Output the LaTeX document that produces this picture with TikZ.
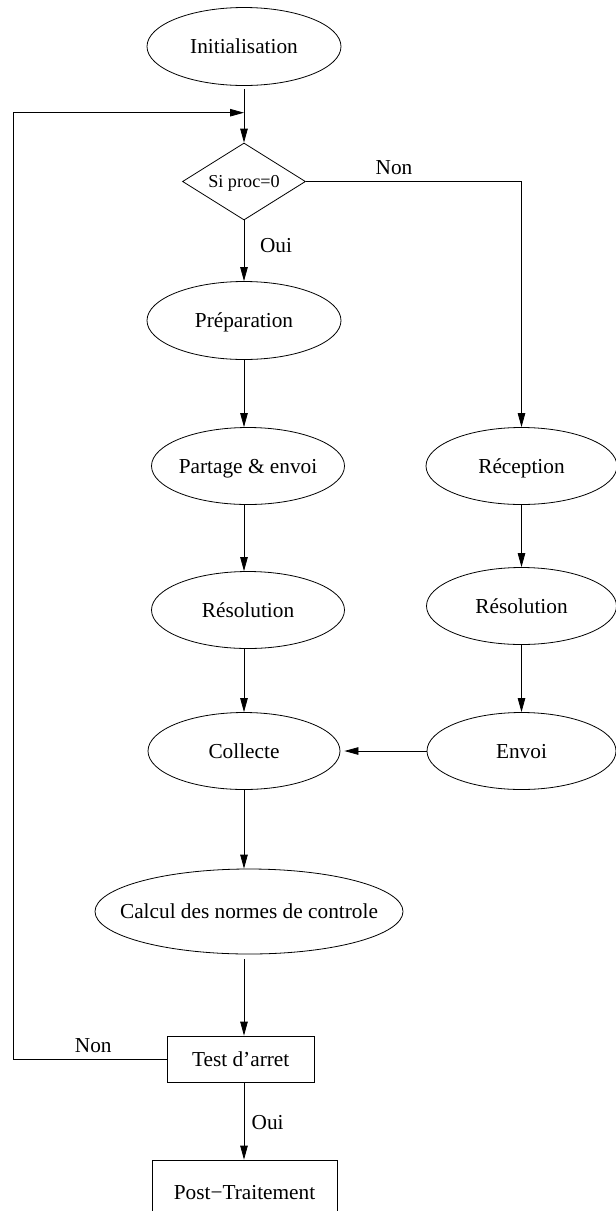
\documentclass[tikz,border=0pt]{standalone}
\usepackage{fontspec}
\setmainfont{Liberation Serif}
\usetikzlibrary{shapes.geometric,arrows.meta}
\newcommand\zw[1]{\makebox[0pt]{#1}}
\begin{document}
\begin{tikzpicture}[x=1pt,y=-1pt,line width=0.8pt,
  txt/.style={font=\fontsize{21.3}{25}\selectfont,text height=14pt,text depth=0pt,inner sep=0pt},
  proc/.style={txt,draw,ellipse},
  boxnode/.style={txt,draw,rectangle},
  cond/.style={draw,diamond,inner sep=0pt,font=\fontsize{18.2}{22}\selectfont,text height=12pt,text depth=0pt},
  lbl/.style={txt},
  arr/.style={-{Triangle[length=14pt,width=7.5pt]}}]
\useasboundingbox (0,0) rectangle (616,1211);
\clip (0,0) rectangle (616,1211);
% nodes
\node[proc,minimum width=194pt,minimum height=78pt] (init) at (244,46.5) {\zw{Initialisation}};
\node[cond,minimum width=123pt,minimum height=77pt] (d) at (244,181.5) {\zw{Si proc=0}};
\node[proc,minimum width=194pt,minimum height=78pt] (prep) at (244,320.5) {\zw{Préparation}};
\node[proc,minimum width=193pt,minimum height=77pt] (part) at (248,466) {\zw{Partage \& envoi}};
\node[proc,minimum width=191pt,minimum height=77pt] (rec) at (521.5,466) {\zw{Réception}};
\node[proc,minimum width=193pt,minimum height=77pt] (res1) at (248,610) {\zw{Résolution}};
\node[proc,minimum width=190pt,minimum height=77pt] (res2) at (521.5,606) {\zw{Résolution}};
\node[proc,minimum width=192pt,minimum height=77pt] (coll) at (244,751) {\zw{Collecte}};
\node[proc,minimum width=189pt,minimum height=77pt] (env) at (521.5,751) {\zw{Envoi}};
\node[proc,minimum width=308pt,minimum height=85pt] (calc) at (249,911.5) {\zw{Calcul des normes de controle}};
\node[boxnode,minimum width=147pt,minimum height=46pt] (test) at (240.7,1059) {\zw{Test d’arret}};
\node[boxnode,minimum width=185pt,minimum height=64pt] (post) at (244.5,1192) {\zw{Post−Traitement}};
% labels
\node[lbl] (non1) at (394,167) {Non};
\node[lbl] (oui1) at (276,245) {Oui};
\node[lbl] (non2) at (93.3,1045) {Non};
\node[lbl] (oui2) at (267.6,1122.5) {Oui};
% helper coordinates
\coordinate (join) at (244,112.7);
\coordinate (loopL) at (13,1059);
% connectors
\draw[arr,shorten <=3pt] (init.south) -- (d.north);
\draw[arr] (test.west) -- (loopL) |- (join);
\draw[arr] (d.south) -- (prep.north);
\draw[arr] (d.east) -| (rec.north);
\draw[arr] (prep.south) -- (prep.south |- part.north);
\draw[arr] (part.south -| prep.south) -- (prep.south |- res1.north);
\draw[arr] (res1.south -| prep.south) -- (coll.north);
\draw[arr] (rec.south) -- (res2.north);
\draw[arr] (res2.south) -- (env.north);
\draw[arr,shorten >=4pt] (env.west) -- (coll.east);
\draw[arr] (coll.south) -- (coll.south |- calc.north);
\draw[arr,shorten <=5pt] (calc.south -| coll.south) -- (coll.south |- test.north);
\draw[arr] (test.south -| coll.south) -- (coll.south |- post.north);
\end{tikzpicture}
\end{document}
